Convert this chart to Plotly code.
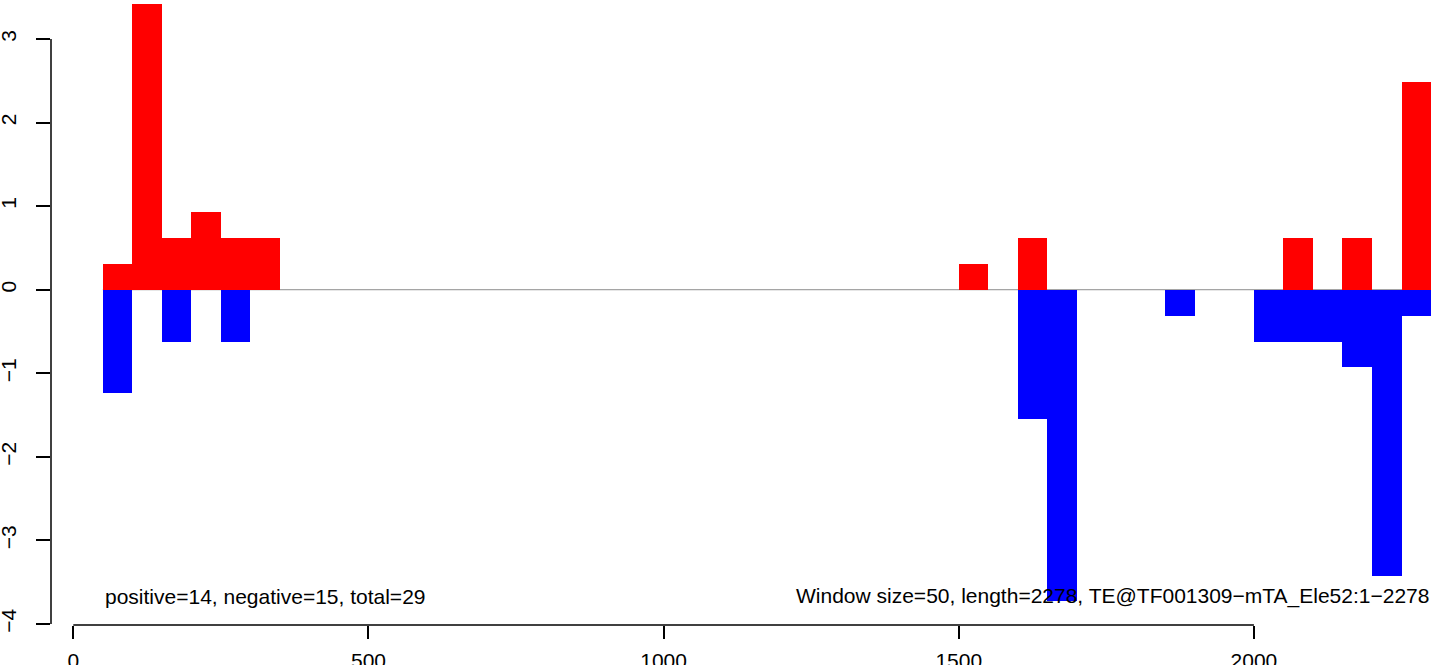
import plotly.graph_objects as go

# Window bins (start positions, window size 50)
window_size = 50
pos_starts = [50, 100, 150, 200, 250, 300, 1500, 1600, 2050, 2150, 2250]
pos_values = [0.31, 3.42, 0.62, 0.93, 0.62, 0.62, 0.31, 0.62, 0.62, 0.62, 2.48]

neg_starts = [50, 150, 250, 1600, 1650, 1850, 2000, 2050, 2100, 2150, 2200, 2250]
neg_values = [-1.24, -0.62, -0.62, -1.55, -3.73, -0.31, -0.62, -0.62, -0.62, -0.93, -3.42, -0.31]

x_ticks = [0, 500, 1000, 1500, 2000]
y_ticks = [-4, -3, -2, -1, 0, 1, 2, 3]

left_text = "positive=14, negative=15, total=29"
right_text = "Window size=50, length=2278, TE@TF001309\u2212mTA_Ele52:1\u22122278"

FONT = "Liberation Sans, Arial, Helvetica, sans-serif"
FS = 21

fig = go.Figure()

# zero line
fig.add_shape(type="line", xref="x", yref="y", x0=50, x1=2300, y0=0, y1=0,
              line=dict(color="#8c8c8c", width=1), layer="below")

fig.add_trace(go.Bar(
    x=[s + window_size / 2 for s in pos_starts], y=pos_values, width=window_size,
    marker=dict(color="#FF0000", line=dict(width=0)), showlegend=False,
))
fig.add_trace(go.Bar(
    x=[s + window_size / 2 for s in neg_starts], y=neg_values, width=window_size,
    marker=dict(color="#0000FF", line=dict(width=0)), showlegend=False,
))

# R-style axis lines spanning first to last tick
fig.add_shape(type="line", xref="paper", yref="y", x0=0, x1=0,
              y0=y_ticks[0], y1=y_ticks[-1], line=dict(color="black", width=1.5))
fig.add_shape(type="line", xref="x", yref="paper", x0=x_ticks[0], x1=x_ticks[-1],
              y0=0, y1=0, line=dict(color="black", width=1.5))

fig.add_annotation(x=pos_starts[0], y=-3.67, xref="x", yref="y", text=left_text,
                   showarrow=False, xanchor="left", yanchor="middle",
                   font=dict(family=FONT, size=FS, color="black"))
fig.add_annotation(x=2300, y=-3.67, xref="x", yref="y", text=right_text,
                   showarrow=False, xanchor="right", yanchor="middle",
                   font=dict(family=FONT, size=FS, color="black"))

fig.update_layout(
    width=1444, height=665,
    margin=dict(l=51, r=0, t=0, b=40),
    paper_bgcolor="white", plot_bgcolor="white",
    barmode="overlay", bargap=0,
    font=dict(family=FONT, size=FS, color="black"),
    xaxis=dict(range=[-37.8, 2322], tickvals=x_ticks, ticks="outside", ticklen=13,
               tickwidth=1.5, tickcolor="black", showline=False, showgrid=False,
               zeroline=False, ticklabelstandoff=4, automargin=False),
    yaxis=dict(range=[-4.012, 3.467], tickvals=y_ticks, ticks="outside", ticklen=14,
               tickwidth=1.5, tickcolor="black", showline=False, showgrid=False,
               zeroline=False, tickangle=-90, ticklabelstandoff=12, automargin=False),
)

fig.write_html("out.html", config={"displayModeBar": False},
               post_script="document.body.style.margin='0px';document.body.style.overflow='hidden';")
